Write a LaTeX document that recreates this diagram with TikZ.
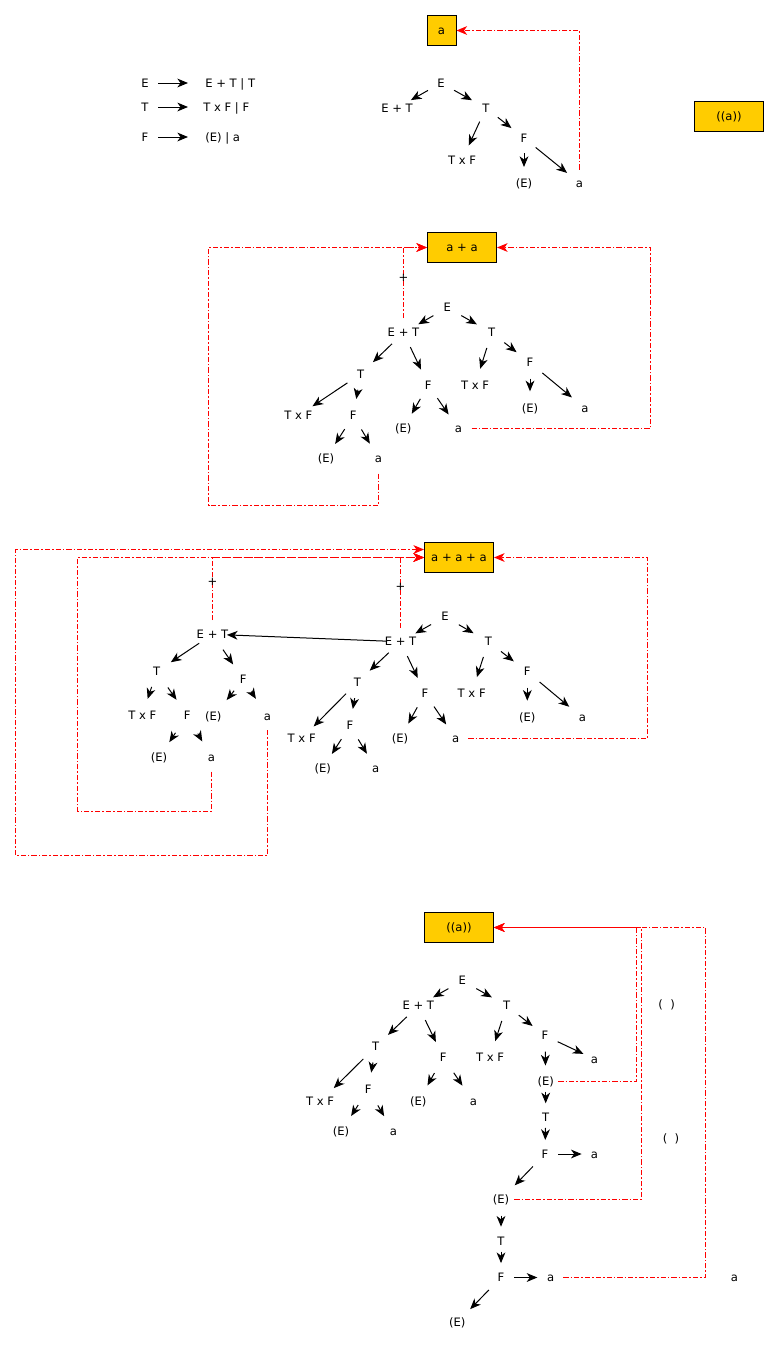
\documentclass[tikz,border=0pt]{standalone}
\usepackage{fontspec}
\newfontfamily\dv{DejaVu Sans}
\usetikzlibrary{arrows.meta}
\definecolor{boxy}{HTML}{FFCC00}
\tikzset{
  lbl/.style={font=\dv\fontsize{8.7pt}{10.4pt}\selectfont, inner sep=0pt, text height=6.3pt, text depth=0pt},
  ybox/.style={lbl, draw=black, fill=boxy, line width=0.75pt, minimum height=22.5pt, minimum width=51.75pt},
  arr/.style={draw=black, line width=0.75pt, -{Stealth[length=8pt,width=6.6pt,inset=2.4pt]}, shorten <=12pt, shorten >=12.75pt},
  rarr/.style={draw=red, line width=1.2pt, dash pattern=on 3.9pt off 1.5pt on 1.2pt off 1.5pt, -{Stealth[length=8pt,width=6.6pt,inset=2.4pt,line width=0.75pt]}, shorten <=10pt},
}
\newcommand\tarr[3][]{\draw[arr,#1] (#2.center) -- (#3.center);}
\begin{document}
\begin{tikzpicture}[x=0.75pt,y=-0.75pt]
\useasboundingbox (0,0) rectangle (779,1353);

% ---------- grammar ----------
\node[lbl] (g1l) at (145,83) {E};
\node[lbl,anchor=west] (g1r) at (205,83) {E + T | T};
\node[lbl] (g2l) at (145,107) {T};
\node[lbl,anchor=west] (g2r) at (203,107) {T x F | F};
\node[lbl] (g3l) at (145,137) {F};
\node[lbl,anchor=west] (g3r) at (205,137) {(E) | a};
\draw[arr, shorten <=9.75pt, shorten >=12.75pt] (g1l.center) -- (g1r.west);
\draw[arr, shorten <=9.75pt, shorten >=11.25pt] (g2l.center) -- (g2r.west);
\draw[arr, shorten <=9.75pt, shorten >=12.75pt] (g3l.center) -- (g3r.west);

\node[ybox] (tbox) at (729,116.5) {((a))};

% ---------- section 1 ----------
\node[ybox, minimum width=21.75pt] (abox) at (441.5,30.5) {a};
\node[lbl] (aE) at (441,83) {E};
\node[lbl] (aET) at (397,108) {E + T};
\node[lbl] (aT) at (486,108) {T};
\node[lbl] (aF) at (524,138) {F};
\node[lbl] (aTF) at (462,160) {T x F};
\node[lbl] (aEp) at (524,183) {(E)};
\node[lbl] (aa) at (579.5,183) {a};
\begin{scope}[arr/.append style={shorten <=11.25pt, shorten >=12pt}]
\tarr{aE}{aET} \tarr{aE}{aT} \tarr{aT}{aTF} \tarr{aT}{aF} \tarr{aF}{aEp} \tarr{aF}{aa}
\end{scope}
\draw[rarr] (aa.center) |- (abox.east);

% ---------- section 2 ----------
\node[ybox] (bbox) at (462,247.5) {a + a};
\node[lbl] (bE) at (447.3,307.7) {E};
\node[lbl] (bET) at (403.5,332.7) {E + T};
\node[lbl] (bT) at (491.7,332.7) {T};
\node[lbl] (bTl) at (360.7,374) {T};
\node[lbl] (bFm) at (428.3,385) {F};
\node[lbl] (bTF) at (475,385) {T x F};
\node[lbl] (bF) at (530,362.7) {F};
\node[lbl] (bEp) at (530,408.3) {(E)};
\node[lbl] (ba) at (585,408.3) {a};
\node[lbl] (bTFl) at (298.3,415.7) {T x F};
\node[lbl] (bFl) at (353.3,415.7) {F};
\node[lbl] (bEm) at (403.3,428.5) {(E)};
\node[lbl] (bam) at (458.3,428.5) {a};
\node[lbl] (bEl) at (326,458.3) {(E)};
\node[lbl] (bal) at (378.5,458.3) {a};
\tarr{bE}{bET} \tarr{bE}{bT} \tarr{bET}{bTl} \tarr{bET}{bFm}
\tarr{bT}{bTF} \tarr{bT}{bF} \tarr{bF}{bEp} \tarr{bF}{ba}
\tarr{bTl}{bTFl} \tarr{bTl}{bFl} \tarr{bFm}{bEm} \tarr{bFm}{bam}
\tarr{bFl}{bEl} \tarr{bFl}{bal}
\draw[rarr, shorten <=11.5pt] (bal.center) |- (208.5,505.5) |- (bbox.west);
\draw[rarr, shorten <=11pt] (bET.center) |- (bbox.west);
\node[lbl] (bplus) at (403.5,277) {+};
\draw[rarr] (bam.center) -| (650.5,247.5) -- (bbox.east);

% ---------- section 3 ----------
\node[ybox] (cbox) at (459,557.5) {a + a + a};
\node[lbl] (cE) at (445,616.7) {E};
\node[lbl] (cETr) at (400.5,641.7) {E + T};
\node[lbl] (cT) at (488.3,641.7) {T};
\node[lbl] (cF) at (527.3,671.7) {F};
\node[lbl] (cTF) at (471.7,693.3) {T x F};
\node[lbl] (cFm) at (425,693.3) {F};
\node[lbl] (cEp) at (527.3,717.7) {(E)};
\node[lbl] (ca) at (582.3,717.7) {a};
\node[lbl] (cEm) at (400,738.5) {(E)};
\node[lbl] (cam) at (455.7,738.5) {a};
\node[lbl] (cTl) at (357.3,682.3) {T};
\node[lbl] (cTFl) at (301.7,738.5) {T x F};
\node[lbl] (cFl) at (350,725.7) {F};
\node[lbl] (cEl) at (322.7,768.3) {(E)};
\node[lbl] (cal) at (375.7,768.3) {a};
\tarr{cE}{cETr} \tarr{cE}{cT} \tarr{cETr}{cTl} \tarr{cETr}{cFm}
\tarr{cT}{cTF} \tarr{cT}{cF} \tarr{cF}{cEp} \tarr{cF}{ca}
\tarr{cTl}{cTFl} \tarr{cTl}{cFl} \tarr{cFm}{cEm} \tarr{cFm}{cam}
\tarr{cFl}{cEl} \tarr{cFl}{cal}
% left tree
\node[lbl] (cETl) at (212.5,634.3) {E + T};
\node[lbl] (cLT) at (156.7,671.7) {T};
\node[lbl] (cLF) at (243.3,679.3) {F};
\node[lbl] (cLTF) at (142.3,715) {T x F};
\node[lbl] (cLF2) at (187.3,715) {F};
\node[lbl] (cLEp) at (213.3,716.7) {(E)};
\node[lbl] (cLa) at (267.5,716.7) {a};
\node[lbl] (cLEp2) at (159,757.7) {(E)};
\node[lbl] (cLa2) at (211.5,757.7) {a};
\tarr{cETl}{cLT} \tarr[shorten <=14pt, shorten >=13.5pt]{cETl}{cLF}
\tarr{cLT}{cLTF} \tarr[shorten <=14.5pt, shorten >=14pt]{cLT}{cLF2}
\tarr[shorten <=11pt, shorten >=16pt]{cLF}{cLEp} \tarr[shorten <=11pt, shorten >=16pt]{cLF}{cLa}
\tarr[shorten <=16pt, shorten >=14pt]{cLF2}{cLEp2} \tarr[shorten <=16pt, shorten >=14pt]{cLF2}{cLa2}
\tarr[shorten <=10pt, shorten >=10.8pt]{cETr}{cETl}
\draw[rarr] (cLa.center) |- (15.5,855.5) |- ([yshift=6pt]cbox.west);
\draw[rarr, shorten <=10.5pt] (cLa2.center) |- (77.5,811.5) |- (cbox.west);
\draw[rarr, shorten <=10.7pt] (cETl.center) |- (cbox.west);
\draw[rarr, shorten <=10.5pt] (cETr.center) |- (cbox.west);
\node[lbl] (cplusl) at (212.5,581.7) {+};
\node[lbl] (cplusr) at (400.5,586.7) {+};
\draw[rarr, shorten <=9.5pt] (cam.center) -| (647.5,557.5) -- (cbox.east);

% ---------- section 4 ----------
\node[ybox] (dbox) at (459,927.5) {((a))};
\node[lbl] (dE) at (462.3,980.7) {E};
\node[lbl] (dET) at (418.3,1005.7) {E + T};
\node[lbl] (dT) at (506.7,1005.7) {T};
\node[lbl] (dTl) at (375.7,1046.7) {T};
\node[lbl] (dFm) at (443.3,1057.3) {F};
\node[lbl] (dTF) at (490,1057.3) {T x F};
\node[lbl] (dF) at (545,1035.7) {F};
\node[lbl] (da) at (594.3,1059) {a};
\node[lbl] (dEp) at (545.7,1081.5) {(E)};
\node[lbl] (dTFl) at (320,1101.7) {T x F};
\node[lbl] (dFl) at (368.3,1089.3) {F};
\node[lbl] (dEm) at (418.3,1101.7) {(E)};
\node[lbl] (dam) at (473.3,1101.7) {a};
\node[lbl] (dEl) at (341,1131.7) {(E)};
\node[lbl] (dal) at (393.3,1131.7) {a};
\node[lbl] (dT2) at (545.7,1117.3) {T};
\node[lbl] (dF2) at (545,1154) {F};
\node[lbl] (da2) at (594.3,1154) {a};
\node[lbl] (dEp2) at (501,1199.5) {(E)};
\node[lbl] (dT3) at (501,1241.7) {T};
\node[lbl] (dF3) at (501,1277.5) {F};
\node[lbl] (da3) at (550.7,1277.5) {a};
\node[lbl] (dEp3) at (457.3,1322.3) {(E)};
\node[lbl] (dafar) at (734.3,1277.5) {a};
\node[lbl] (dpar1) at (666.7,1004) {(\ \ )};
\node[lbl] (dpar2) at (671,1138.3) {(\ \ )};
\tarr{dE}{dET} \tarr{dE}{dT} \tarr{dET}{dTl} \tarr{dET}{dFm}
\tarr{dT}{dTF} \tarr[shorten <=11.5pt, shorten >=11.8pt]{dT}{dF}
\tarr[shorten <=10.5pt, shorten >=9pt]{dF}{da}
\tarr[shorten <=12pt, shorten >=12pt]{dF}{dEp}
\tarr[shorten <=13pt, shorten >=14.5pt]{dTl}{dTFl} \tarr{dTl}{dFl}
\tarr[shorten <=13.5pt, shorten >=14pt]{dFm}{dEm} \tarr[shorten <=14pt, shorten >=14.5pt]{dFm}{dam}
\tarr[shorten <=14pt, shorten >=14pt]{dFl}{dEl} \tarr[shorten <=14pt, shorten >=13.5pt]{dFl}{dal}
\tarr[shorten <=7.5pt, shorten >=10.5pt]{dEp}{dT2}
\tarr[shorten <=8pt, shorten >=10.5pt]{dT2}{dF2}
\tarr[shorten <=10pt, shorten >=9.5pt]{dF2}{da2}
\tarr[shorten <=13pt, shorten >=14.8pt]{dF2}{dEp2}
\tarr[shorten <=12pt, shorten >=11.25pt]{dEp2}{dT3}
\tarr[shorten <=7.5pt, shorten >=10.8pt]{dT3}{dF3}
\tarr[shorten <=10pt, shorten >=10pt]{dF3}{da3}
\tarr[shorten <=13pt, shorten >=13.8pt]{dF3}{dEp3}
\draw[rarr, shorten <=9.5pt] (dEp.center) -| (636.5,927.5) -- (dbox.east);
\draw[rarr, shorten <=10pt] (dEp2.center) -| (641.5,927.5) -- (dbox.east);
\draw[rarr, shorten <=9.5pt] (da3.center) -| (705.5,927.5) -- (dbox.east);
\end{tikzpicture}
\end{document}
